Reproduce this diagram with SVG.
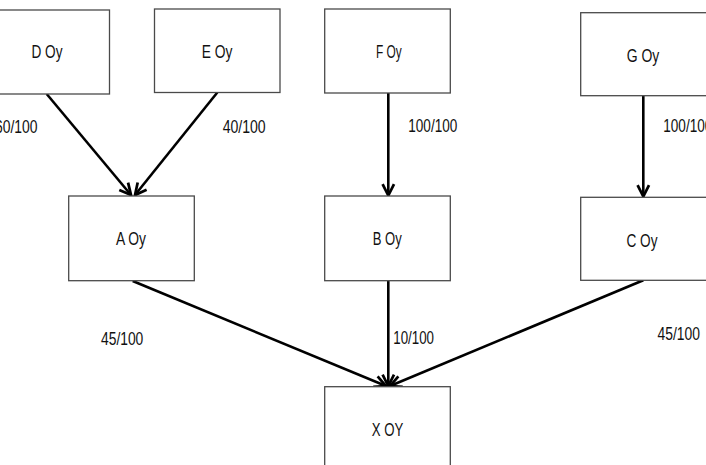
<svg xmlns="http://www.w3.org/2000/svg" width="706" height="465" viewBox="0 0 706 465">
<style>
.box{fill:#fff;stroke:#4a4a4a;stroke-width:1.3}
.t{font-family:"Liberation Sans",Arial,sans-serif;font-size:18px;fill:#111;text-anchor:middle}
.l{font-family:"Liberation Sans",Arial,sans-serif;font-size:18px;fill:#111}
.c{stroke:#000;stroke-width:2.6;fill:none;marker-end:url(#arr)}
</style>
<defs>
<marker id="arr" markerUnits="userSpaceOnUse" markerWidth="16" markerHeight="16" refX="11" refY="6" orient="auto" viewBox="0 0 14 12">
<path d="M1,1 L11,6 L1,11" fill="none" stroke="#000" stroke-width="2.4"/>
</marker>
</defs>
<rect width="706" height="465" fill="#fff"/>
<g id="connectors">
<line class="c" x1="46.7" y1="94" x2="131" y2="195"/>
<line class="c" x1="217.3" y1="92.5" x2="135" y2="195"/>
<line class="c" x1="388.3" y1="93" x2="388.3" y2="195.5"/>
<line class="c" x1="643.3" y1="95.7" x2="643.3" y2="196.5"/>
<line class="c" x1="132.7" y1="281" x2="386" y2="386"/>
<line class="c" x1="388.3" y1="281" x2="388.3" y2="386"/>
<line class="c" x1="643.3" y1="280.3" x2="390" y2="386"/>
</g>
<g id="labels">
<text class="l" x="-5" y="133.3" textLength="42.6" lengthAdjust="spacingAndGlyphs">60/100</text>
<text class="l" x="222.7" y="133.3" textLength="43" lengthAdjust="spacingAndGlyphs">40/100</text>
<text class="l" x="408.3" y="131.5" textLength="49" lengthAdjust="spacingAndGlyphs">100/100</text>
<text class="l" x="663.3" y="131.5" textLength="49" lengthAdjust="spacingAndGlyphs">100/100</text>
<text class="l" x="101" y="345" textLength="42.3" lengthAdjust="spacingAndGlyphs">45/100</text>
<text class="l" x="393.3" y="344" textLength="40.7" lengthAdjust="spacingAndGlyphs">10/100</text>
<text class="l" x="657.5" y="340" textLength="42.5" lengthAdjust="spacingAndGlyphs">45/100</text>
</g>
<g id="D"><rect class="box" x="-16.5" y="10" width="126" height="84"/><text class="t" x="47" y="58.3" textLength="31" lengthAdjust="spacingAndGlyphs">D Oy</text></g>
<g id="E"><rect class="box" x="154.5" y="9" width="125.5" height="83.5"/><text class="t" x="217" y="57.5" textLength="30.7" lengthAdjust="spacingAndGlyphs">E Oy</text></g>
<g id="F"><rect class="box" x="324.7" y="9" width="125.6" height="84"/><text class="t" x="388.8" y="57.5" textLength="25.7" lengthAdjust="spacingAndGlyphs">F Oy</text></g>
<g id="G"><rect class="box" x="580.7" y="12.7" width="126" height="83"/><text class="t" x="643" y="61.7" textLength="32.6" lengthAdjust="spacingAndGlyphs">G Oy</text></g>
<g id="A"><rect class="box" x="68.7" y="196" width="125.6" height="84.7"/><text class="t" x="131" y="245" textLength="30" lengthAdjust="spacingAndGlyphs">A Oy</text></g>
<g id="B"><rect class="box" x="324.7" y="196" width="125.6" height="84.7"/><text class="t" x="387.2" y="244.5" textLength="29" lengthAdjust="spacingAndGlyphs">B Oy</text></g>
<g id="C"><rect class="box" x="580.7" y="197.3" width="126" height="83"/><text class="t" x="642" y="246.5" textLength="31" lengthAdjust="spacingAndGlyphs">C Oy</text></g>
<g id="X"><rect class="box" x="324.7" y="386.7" width="125.6" height="90"/><text class="t" x="387.5" y="436" textLength="31.6" lengthAdjust="spacingAndGlyphs">X OY</text></g>
</svg>
